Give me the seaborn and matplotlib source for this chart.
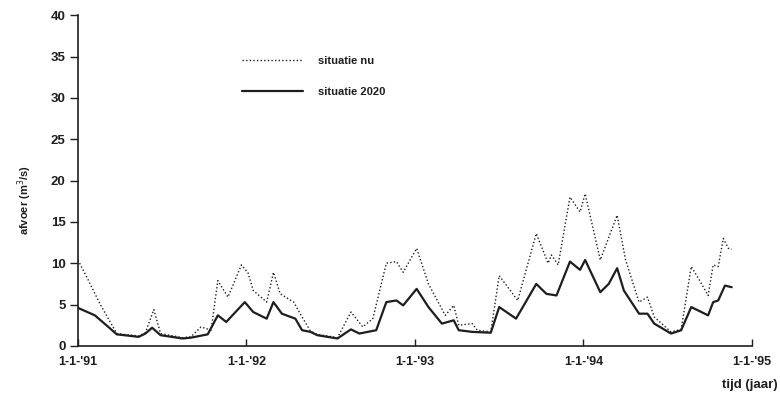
import matplotlib
matplotlib.use("Agg")
import matplotlib.pyplot as plt
import seaborn as sns
import pandas as pd

# Discharge series (m3/s) against time in decimal years
t_nu = [1991.00, 1991.06, 1991.13, 1991.23, 1991.36, 1991.40, 1991.45, 1991.49,
        1991.62, 1991.67, 1991.73, 1991.79, 1991.83, 1991.89, 1991.97, 1992.01,
        1992.04, 1992.12, 1992.16, 1992.20, 1992.28, 1992.33, 1992.38, 1992.42,
        1992.54, 1992.62, 1992.69, 1992.75, 1992.83, 1992.89, 1992.93, 1993.01,
        1993.08, 1993.18, 1993.23, 1993.26, 1993.34, 1993.37, 1993.45, 1993.50,
        1993.61, 1993.72, 1993.79, 1993.81, 1993.85, 1993.92, 1993.98, 1994.01,
        1994.10, 1994.20, 1994.25, 1994.33, 1994.38, 1994.42, 1994.52, 1994.58,
        1994.64, 1994.69, 1994.74, 1994.77, 1994.80, 1994.83, 1994.86, 1994.88]
q_nu = [10.4, 8.0, 5.1, 1.5, 1.2, 1.6, 4.4, 1.5,
        1.0, 1.1, 2.3, 1.9, 7.9, 5.9, 9.8, 8.8,
        6.7, 5.3, 8.9, 6.3, 5.3, 3.5, 1.8, 1.4,
        1.0, 4.1, 2.3, 3.3, 10.0, 10.2, 8.9, 11.8,
        7.5, 3.7, 4.9, 2.5, 2.7, 1.9, 1.7, 8.5,
        5.5, 13.6, 10.0, 11.0, 9.8, 18.0, 16.2, 18.4,
        10.4, 15.8, 10.4, 5.3, 5.9, 3.5, 1.7, 2.0,
        9.6, 7.9, 6.1, 9.8, 9.6, 13.0, 11.8, 11.7]

t_2020 = [1991.00, 1991.10, 1991.18, 1991.23, 1991.36, 1991.40, 1991.44, 1991.49,
          1991.62, 1991.67, 1991.77, 1991.83, 1991.88, 1991.99, 1992.04, 1992.12,
          1992.16, 1992.21, 1992.29, 1992.33, 1992.38, 1992.42, 1992.54, 1992.62,
          1992.67, 1992.77, 1992.83, 1992.89, 1992.93, 1993.01, 1993.08, 1993.16,
          1993.23, 1993.26, 1993.34, 1993.45, 1993.50, 1993.60, 1993.72, 1993.78,
          1993.84, 1993.92, 1993.98, 1994.01, 1994.10, 1994.15, 1994.20, 1994.24,
          1994.33, 1994.38, 1994.42, 1994.52, 1994.58, 1994.64, 1994.74, 1994.77,
          1994.80, 1994.84, 1994.88]
q_2020 = [4.6, 3.7, 2.3, 1.4, 1.1, 1.5, 2.2, 1.3,
          0.9, 1.0, 1.4, 3.7, 2.9, 5.3, 4.1, 3.3,
          5.3, 3.9, 3.3, 1.9, 1.7, 1.3, 0.9, 2.0,
          1.5, 1.9, 5.3, 5.5, 4.9, 6.9, 4.7, 2.7,
          3.1, 1.9, 1.7, 1.6, 4.7, 3.3, 7.5, 6.3,
          6.1, 10.2, 9.2, 10.4, 6.5, 7.5, 9.4, 6.7,
          3.9, 3.9, 2.7, 1.5, 1.9, 4.7, 3.7, 5.3,
          5.5, 7.3, 7.1]

series_names = ["situatie nu", "situatie 2020"]
year_ticks = [1991, 1992, 1993, 1994, 1995]
year_labels = ["1-1-'91", "1-1-'92", "1-1-'93", "1-1-'94", "1-1-'95"]
y_ticks = [0, 5, 10, 15, 20, 25, 30, 35, 40]

df = pd.concat([
    pd.DataFrame({"tijd": t_nu, "afvoer": q_nu, "scenario": series_names[0]}),
    pd.DataFrame({"tijd": t_2020, "afvoer": q_2020, "scenario": series_names[1]}),
], ignore_index=True)

sns.set_style("ticks")
plt.rcParams["font.family"] = ["Liberation Sans", "DejaVu Sans"]

ink = "#1e1e1e"
fig = plt.figure(figsize=(7.8, 3.99), dpi=100)
ax = fig.add_axes([0.1, 0.133, 0.864, 0.829])

sns.lineplot(
    data=df, x="tijd", y="afvoer",
    style="scenario", size="scenario",
    dashes={series_names[0]: (1, 1.6), series_names[1]: ""},
    sizes={series_names[0]: 1.0, series_names[1]: 1.6},
    color=ink, estimator=None, sort=False, ax=ax,
)

ax.set_xlim(1991, 1995)
ax.set_ylim(0, 40)
ax.set_xticks(year_ticks)
ax.set_xticklabels(year_labels)
ax.set_yticks(y_ticks)
sns.despine(ax=ax)
for sp in ("left", "bottom"):
    ax.spines[sp].set_linewidth(1.2)
    ax.spines[sp].set_color(ink)

ax.tick_params(axis="x", direction="in", length=5, width=1.0, pad=7,
               labelsize=9, colors=ink)
ax.tick_params(axis="y", direction="out", length=6, width=1.0, pad=3,
               labelsize=9.5, colors=ink)
for lab in ax.get_xticklabels() + ax.get_yticklabels():
    lab.set_fontweight("bold")

ax.set_xlabel("")
ax.set_ylabel("afvoer (m$^3$/s)", fontsize=8, fontweight="bold", color=ink)
ax.yaxis.set_label_coords(-0.066, 0.44)
fig.text(0.997, 1 - 385 / 399, "tijd (jaar)", ha="right", va="center",
         fontsize=9.5, fontweight="bold", color=ink)

handles, labels = ax.get_legend_handles_labels()
leg = ax.legend(handles, labels, loc="upper left", bbox_to_anchor=(0.243, 0.878),
                frameon=False, handlelength=5.5, handletextpad=1.4,
                labelspacing=1.9, borderpad=0, borderaxespad=0,
                prop={"size": 8, "weight": "bold"})
for txt in leg.get_texts():
    txt.set_color(ink)

fig.savefig("out.png", dpi=100, facecolor="white")
